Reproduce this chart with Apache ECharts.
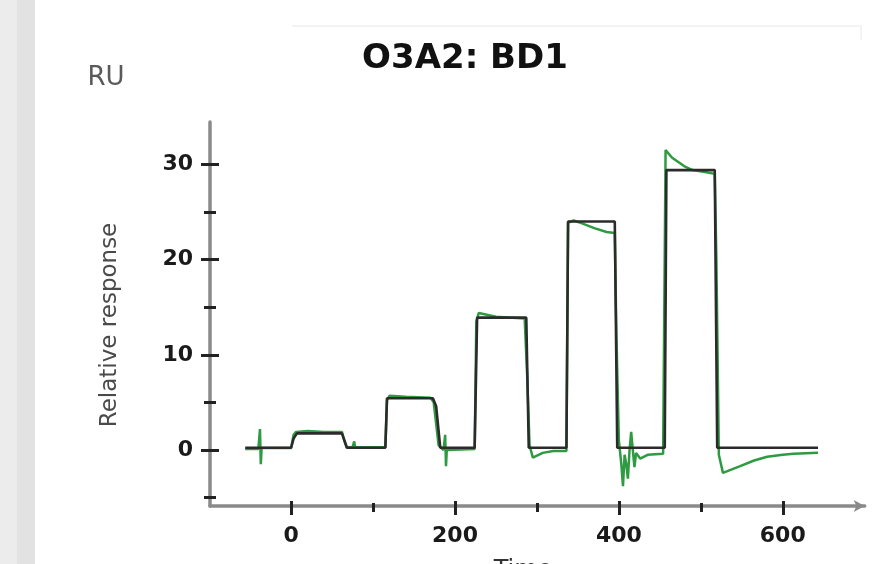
<!DOCTYPE html>
<html>
<head>
<meta charset="utf-8">
<script src="https://cdn.jsdelivr.net/npm/echarts@6/dist/echarts.min.js"></script>
<style>
html,body{margin:0;padding:0;background:#fff;}
#chart{width:880px;height:564px;}
</style>
</head>
<body>
<div id="chart"></div>
<script>
// Fitted model (black)
const fitTime = [-56, 0, 3, 7, 62, 68, 115, 117, 173, 177, 182, 224, 227, 287, 290, 336, 338, 395, 398, 456, 458, 517, 520, 643];
const fitResponse = [0.24, 0.24, 1.2, 1.75, 1.75, 0.24, 0.24, 5.43, 5.43, 4.6, 0.24, 0.24, 13.9, 13.9, 0.24, 0.24, 24.0, 24.0, 0.24, 0.24, 29.4, 29.4, 0.24, 0.24];

// Observed sensorgram (green)
const obsTime = [-56, -40, -38, -37, -36, 0, 3, 6, 20, 40, 62, 65, 68, 75, 77, 78, 115, 117, 120, 140, 170, 174, 180, 186, 188, 189, 190, 224, 226, 229, 250, 285, 288, 291, 295, 307, 320, 336, 338, 345, 355, 370, 385, 395, 397, 400, 403, 405, 407, 409, 411, 413, 415, 417, 419, 421, 426, 435, 454, 457, 465, 480, 490, 505, 517, 519, 522, 527, 548, 565, 581, 600, 613, 643];
const obsResponse = [0.1, 0.1, 2.2, -1.5, 0.2, 0.2, 1.6, 1.9, 2.0, 1.9, 1.9, 1.0, 0.3, 0.3, 0.9, 0.3, 0.3, 5.2, 5.7, 5.6, 5.5, 5.0, 0.5, 0.0, 1.6, -1.7, 0.0, 0.1, 13.5, 14.4, 14.0, 13.8, 8.0, 0.5, -0.8, -0.3, -0.1, -0.1, 23.9, 24.1, 23.8, 23.3, 22.9, 22.8, 12.0, 1.0, -1.5, -3.8, -0.5, -1.5, -3.0, 0.0, 1.9, 0.0, -1.8, -0.3, -0.9, -0.5, -0.4, 31.5, 30.7, 29.8, 29.4, 29.2, 29.0, 20.0, -0.5, -2.4, -1.7, -1.1, -0.7, -0.5, -0.4, -0.3];

const xMajorTicks = [0, 200, 400, 600];
const xMinorTicks = [100, 300, 500];
const yMajorTicks = [0, 10, 20, 30];
const yMinorTicks = [-5, 5, 15, 25];

const titleText = 'O3A2: BD1';
const yName = 'Relative response';
const xName = 'Time';
const unitText = 'RU';

const X_MIN = -99, X_MAX = 700;
const Y_MIN = -5.88, Y_MAX = 34.45;

const pair = (xs, ys) => xs.map((x, i) => [x, ys[i]]);

const tickColor = '#222';
const lineColor = '#8a8a8a';

function xAxisDef(ticks, inside, len, main) {
  return {
    type: 'value', min: X_MIN, max: X_MAX, position: 'bottom',
    axisLine: main ? { show: true, onZero: false, symbol: ['none', 'arrow'], symbolSize: [9, 11], lineStyle: { color: lineColor, width: 3.5 } } : { show: false, onZero: false },
    axisTick: { show: true, inside: inside, length: len, customValues: ticks, lineStyle: { color: tickColor, width: 3 } },
    axisLabel: main ? { show: true, customValues: ticks, margin: 19, fontFamily: 'DejaVu Sans', fontWeight: 'bold', fontSize: 22, color: '#1a1a1a' } : { show: false },
    splitLine: { show: false }
  };
}
function yAxisDef(ticks, inside, len, main) {
  return {
    type: 'value', min: Y_MIN, max: Y_MAX, position: 'left',
    axisLine: main ? { show: true, onZero: false, lineStyle: { color: lineColor, width: 3.5 } } : { show: false, onZero: false },
    axisTick: { show: true, inside: inside, length: len, customValues: ticks, lineStyle: { color: tickColor, width: 3 } },
    axisLabel: main ? { show: true, customValues: ticks, margin: 17, fontFamily: 'DejaVu Sans', fontWeight: 'bold', fontSize: 22, color: '#1a1a1a' } : { show: false },
    splitLine: { show: false }
  };
}

const chart = echarts.init(document.getElementById('chart'), null, { renderer: 'canvas' });
chart.setOption({
  animation: false,
  backgroundColor: '#ffffff',
  title: {
    text: titleText, left: 460, top: 37, textAlign: 'center',
    textStyle: { fontFamily: 'DejaVu Sans', fontWeight: 'bold', fontSize: 34, color: '#111' }
  },
  grid: { left: 210, right: 15.3, top: 122, bottom: 58, containLabel: false },
  xAxis: [
    xAxisDef(xMajorTicks, false, 9, true),
    xAxisDef(xMajorTicks, true, 5, false),
    xAxisDef(xMinorTicks, false, 6, false),
    xAxisDef(xMinorTicks, true, 3, false)
  ],
  yAxis: [
    yAxisDef(yMajorTicks, false, 9, true),
    yAxisDef(yMajorTicks, true, 9, false),
    yAxisDef(yMinorTicks, false, 6, false),
    yAxisDef(yMinorTicks, true, 6, false)
  ],
  graphic: [
    { type: 'rect', shape: { x: 0, y: 0, width: 17, height: 564 }, style: { fill: '#ececec' }, silent: true },
    { type: 'rect', shape: { x: 17, y: 0, width: 18, height: 564 }, style: { fill: '#e2e2e2' }, silent: true },
    { type: 'polyline', shape: { points: [[292, 26], [861, 26], [861, 40]] }, style: { stroke: '#f3f3f3', lineWidth: 2, fill: null }, silent: true },
    { type: 'text', x: 106, y: 78, style: { text: unitText, font: '26px "DejaVu Sans"', fill: '#5a5a5a', textAlign: 'center', textVerticalAlign: 'middle' }, silent: true },
    { type: 'text', x: 110, y: 325, rotation: Math.PI / 2, style: { text: yName, font: '23px "DejaVu Sans"', fill: '#4a4a4a', textAlign: 'center', textVerticalAlign: 'middle' }, silent: true },
    { type: 'text', x: 523, y: 559, style: { text: xName, font: '24px "DejaVu Sans"', fill: '#333', textAlign: 'center', textVerticalAlign: 'top' }, silent: true }
  ],
  series: [
    {
      type: 'line', xAxisIndex: 0, yAxisIndex: 0, showSymbol: false, symbol: 'none',
      data: pair(obsTime, obsResponse),
      lineStyle: { color: '#2e9b42', width: 2.5 }, z: 2
    },
    {
      type: 'line', xAxisIndex: 0, yAxisIndex: 0, showSymbol: false, symbol: 'none',
      data: pair(fitTime, fitResponse),
      lineStyle: { color: '#2b2b2b', width: 2.6 }, z: 3
    }
  ]
});
</script>
</body>
</html>
